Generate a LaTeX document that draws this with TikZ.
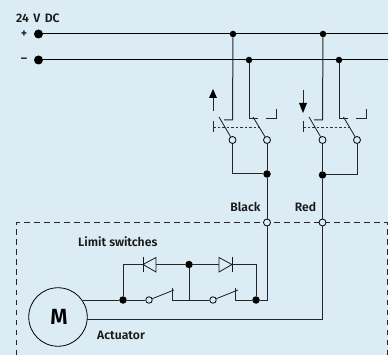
\documentclass[tikz,border=0pt]{standalone}
\usepackage{fontspec}
\setmainfont{Fira Sans SemiBold}
\begin{document}
\begin{tikzpicture}[x=1pt,y=-1pt,
  wire/.style={line width=1pt,color=black!85},
  rail/.style={line width=1pt,color=black},
  thin wire/.style={line width=0.8pt,color=black!90},
  dot/.style={circle,fill=black,draw=none,inner sep=0pt,minimum size=#1},
  dot/.default=7.5pt,
  opn/.style={circle,draw=black,line width=0.8pt,fill=bg,inner sep=0pt,minimum size=7pt},
  lab/.style={font=\fontsize{12.2}{14}\selectfont,text=black!90,inner sep=0pt},
  boxdash/.style={line width=0.9pt,dash pattern=on 5.5pt off 4.5pt,color=black!85},
  linkdash/.style={line width=0.9pt,dash pattern=on 2.6pt off 1.9pt,color=black!80},
  arrowfill/.style={fill=black,draw=none}]
\definecolor{bg}{HTML}{DCECF4}
\fill[bg] (0,0) rectangle (388,355);
\useasboundingbox (0,0) rectangle (388,355);

% housing
\coordinate (bl) at (16.5,355);
\coordinate (tl) at (16.5,222.5);
\coordinate (tr) at (387,222.5);
\coordinate (br) at (387,355);
\draw[boxdash] (bl) -- (tl) -- (tr) -- (br);

% linkages
\coordinate (la) at (213,127); \coordinate (lb) at (260,127);
\coordinate (ra) at (303,127); \coordinate (rb) at (350,127);
\draw[linkdash] (la) -- (lb);
\draw[linkdash] (ra) -- (rb);

% supply
\node[dot=9pt] (plus) at (38.5,34) {};
\node[dot=9pt] (minus) at (38.5,60) {};
\coordinate (pend) at (388,34);
\coordinate (mend) at (388,60);
\node[dot=6.5pt] (j1) at (233,34) {};
\node[dot=6.5pt] (j2) at (323,34) {};
\node[dot=6.5pt] (j3) at (249,60) {};
\node[dot=6.5pt] (j4) at (339,60) {};
\draw[rail] (plus) -- (pend);
\draw[rail] (minus) -- (mend);

% switch contacts
\node[opn] (c1) at (232.5,140) {};
\node[opn] (c2) at (267,140) {};
\node[opn] (c3) at (322.5,140) {};
\node[opn] (c4) at (357,140) {};
\coordinate (b1) at (219,117); \coordinate (b2) at (253,117);
\coordinate (b3) at (309,117); \coordinate (b4) at (343.5,117);
\draw[thin wire] (b1) -- (c1);
\draw[thin wire] (b2) -- (c2);
\draw[thin wire] (b3) -- (c3);
\draw[thin wire] (b4) -- (c4);

\coordinate (w1) at (232.5,120); \coordinate (w1e) at (224,120);
\coordinate (w2) at (249,119); \coordinate (w2e) at (258,119);
\coordinate (w3) at (322.5,120); \coordinate (w3e) at (314,120);
\coordinate (w4) at (339,119); \coordinate (w4e) at (348,119);
\draw[wire] (j1) -- (w1) -- (w1e);
\draw[wire] (j3) -- (w2) -- (w2e);
\draw[wire] (j2) -- (w3) -- (w3e);
\draw[wire] (j4) -- (w4) -- (w4e);

\coordinate (n1a) at (266,119); \coordinate (n1b) at (276,119); \coordinate (n1c) at (276,109);
\coordinate (n2a) at (356,119); \coordinate (n2b) at (366,119); \coordinate (n2c) at (366,109);
\draw[wire] (n1a) -- (n1b) -- (n1c);
\draw[wire] (n2a) -- (n2b) -- (n2c);

% actuating bars
\coordinate (s1a) at (213,121); \coordinate (s1b) at (213,132);
\coordinate (s2a) at (303,121); \coordinate (s2b) at (303,132);
\draw[wire] (s1a) -- (s1b);
\draw[wire] (s2a) -- (s2b);

% arrows
\coordinate (up0) at (213,111); \coordinate (up1) at (213,97);
\coordinate (upt) at (213,89); \coordinate (upl) at (209,98); \coordinate (upr) at (217,98);
\draw[wire] (up0) -- (up1);
\fill[arrowfill] (upt) -- (upl) -- (upr) -- cycle;
\coordinate (dn0) at (303,90); \coordinate (dn1) at (303,104);
\coordinate (dnt) at (303,113); \coordinate (dnl) at (299,103); \coordinate (dnr) at (307,103);
\draw[wire] (dn0) -- (dn1);
\fill[arrowfill] (dnt) -- (dnl) -- (dnr) -- cycle;

% wires from contacts to housing
\node[dot] (jb) at (267,174) {};
\node[dot] (jr) at (322.5,175) {};
\coordinate (cb) at (232.5,174);
\coordinate (cr) at (357,175);
\draw[wire] (c1) -- (cb) -- (jb);
\draw[wire] (c2) -- (jb);
\draw[wire] (c3) -- (jr);
\draw[wire] (c4) -- (cr) -- (jr);
\node[opn] (pb) at (267,222.5) {};
\node[opn] (pr) at (322.5,222.5) {};
\draw[wire] (jb) -- (pb);
\draw[wire] (jr) -- (pr);

% motor
\node[circle,draw=black,line width=0.8pt,inner sep=0pt,minimum size=58.5pt,
  font=\fontsize{22}{24}\selectfont] (motor) at (58,317) {\hspace{2pt}\raisebox{1pt}{M}};

% limit switch circuit
\node[dot] (jl) at (123,300) {};
\node[dot] (jm) at (189,264.5) {};
\node[dot] (jt) at (256,300) {};
\node[opn,minimum size=6.5pt] (o1) at (149,300) {};
\node[opn,minimum size=6.5pt] (o2) at (213,300) {};
\coordinate (me) at (82.5,300);
\draw[wire] (me) -- (jl) -- (o1);
\coordinate (t1) at (174,290); \coordinate (t2) at (238,290);
\draw[thin wire] (o1) -- (t1);
\draw[thin wire] (o2) -- (t2);
\coordinate (v1a) at (172,288); \coordinate (v1b) at (172,300);
\coordinate (v2a) at (235,288); \coordinate (v2b) at (235,300);
\coordinate (jmb) at (189,300);
\draw[wire] (v1a) -- (v1b) -- (o2);
\draw[wire] (v2a) -- (v2b) -- (jt);
\draw[wire] (jm) -- (jmb);
\coordinate (jlt) at (123,264.5);
\coordinate (jtt) at (256,264.5);
% diodes
\coordinate (d1t) at (143,264.5); \coordinate (d1u) at (156,257.5); \coordinate (d1d) at (156,272);
\coordinate (d1bu) at (143,257); \coordinate (d1bd) at (143,272.5); \coordinate (d1m) at (156,264.5);
\coordinate (d2t) at (232,264.5); \coordinate (d2u) at (219,257.5); \coordinate (d2d) at (219,272);
\coordinate (d2bu) at (232,257); \coordinate (d2bd) at (232,272.5); \coordinate (d2m) at (219,264.5);
\draw[thin wire] (d1t) -- (d1u) -- (d1d) -- cycle;
\draw[thin wire] (d1bu) -- (d1bd);
\draw[thin wire] (d2t) -- (d2u) -- (d2d) -- cycle;
\draw[thin wire] (d2bu) -- (d2bd);
\draw[wire] (jl) -- (jlt) -- (d1t);
\draw[wire] (d1m) -- (jm) -- (d2m);
\draw[wire] (d2t) -- (jtt) -- (jt);

\coordinate (bc) at (267,300);
\draw[wire] (pb) -- (bc) -- (jt);
\coordinate (rc) at (322.5,319.5);
\coordinate (ms) at (87,319.5);
\draw[wire] (pr) -- (rc) -- (ms);

% labels
\node[lab,anchor=west] (t24) at (16,18) {24\hspace{1.5pt} V\hspace{1.5pt} DC};
\node[lab] (tp) at (24,34) {+};
\node[lab] (tm) at (24,60) {–};
\node[lab] (tblack) at (245.5,207) {Black};
\node[lab] (tred) at (305.5,207) {Red};
\node[lab,anchor=west] (tlim) at (78,242) {Limit switches};
\node[lab,anchor=west] (tact) at (97,335) {Actuator};
\end{tikzpicture}
\end{document}
